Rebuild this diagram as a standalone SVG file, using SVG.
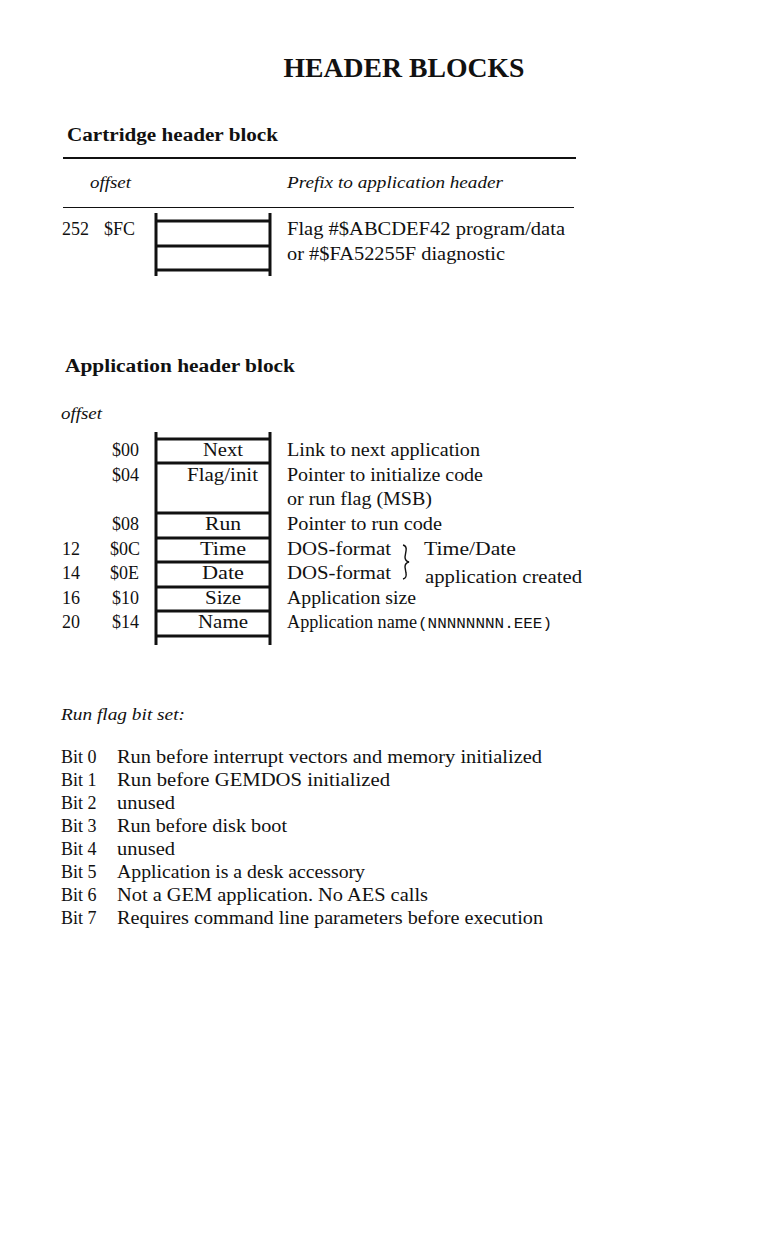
<svg xmlns="http://www.w3.org/2000/svg" width="759" height="1240" viewBox="0 0 759 1240">
<style>
text{font-family:"Liberation Serif","Times New Roman",serif;fill:#111;font-size:18px}
.t{font-size:27px;font-weight:bold}
.h{font-size:18px;font-weight:bold}
.i{font-style:italic;font-size:17px}
.c{text-anchor:middle;font-size:19px}
.m{font-family:"Liberation Mono","DejaVu Sans Mono",monospace;font-size:14px}
.bar{stroke:#111;stroke-width:3;fill:none}
.rule{stroke:#111;fill:none}
</style>
<rect width="759" height="1240" fill="#fff"/>
<text class="t" x="404" y="77" text-anchor="middle" textLength="241" lengthAdjust="spacingAndGlyphs">HEADER BLOCKS</text>

<g id="cartridge">
<text class="h" x="67" y="141" textLength="211" lengthAdjust="spacingAndGlyphs">Cartridge header block</text>
<line class="rule" x1="63" y1="158" x2="576" y2="158" stroke-width="2"/>
<text class="i" x="90" y="188" textLength="41" lengthAdjust="spacingAndGlyphs">offset</text>
<text class="i" x="287" y="188" textLength="216" lengthAdjust="spacingAndGlyphs">Prefix to application header</text>
<line class="rule" x1="63" y1="207.5" x2="574" y2="207.5" stroke-width="1.2"/>
<text x="62" y="235">252</text>
<text x="104" y="235">$FC</text>
<g id="cart-block">
<line class="bar" x1="156" y1="213" x2="156" y2="276"/>
<line class="bar" x1="270" y1="213" x2="270" y2="276"/>
<line class="bar" x1="156" y1="221" x2="270" y2="221"/>
<line class="bar" x1="156" y1="246" x2="270" y2="246"/>
<line class="bar" x1="156" y1="270" x2="270" y2="270"/>
</g>
<text x="287" y="235" textLength="278" lengthAdjust="spacingAndGlyphs">Flag #$ABCDEF42 program/data</text>
<text x="287" y="260" textLength="218" lengthAdjust="spacingAndGlyphs">or #$FA52255F diagnostic</text>
</g>

<g id="application">
<text class="h" x="65" y="372" textLength="230" lengthAdjust="spacingAndGlyphs">Application header block</text>
<text class="i" x="61" y="419" textLength="41" lengthAdjust="spacingAndGlyphs">offset</text>
<g id="app-block">
<line class="bar" x1="156" y1="432" x2="156" y2="645"/>
<line class="bar" x1="270" y1="432" x2="270" y2="645"/>
<line class="bar" x1="156" y1="439" x2="270" y2="439"/>
<line class="bar" x1="156" y1="463" x2="270" y2="463"/>
<line class="bar" x1="156" y1="513" x2="270" y2="513"/>
<line class="bar" x1="156" y1="538" x2="270" y2="538"/>
<line class="bar" x1="156" y1="562" x2="270" y2="562"/>
<line class="bar" x1="156" y1="587" x2="270" y2="587"/>
<line class="bar" x1="156" y1="611" x2="270" y2="611"/>
<line class="bar" x1="156" y1="636" x2="270" y2="636"/>
</g>
<g id="cell-next"><text class="c" x="223" y="456" textLength="40" lengthAdjust="spacingAndGlyphs">Next</text></g>
<g id="cell-flag"><text class="c" x="222.5" y="481" textLength="71" lengthAdjust="spacingAndGlyphs">Flag/init</text></g>
<g id="cell-run"><text class="c" x="223" y="530" textLength="36" lengthAdjust="spacingAndGlyphs">Run</text></g>
<g id="cell-time"><text class="c" x="223" y="555" textLength="46" lengthAdjust="spacingAndGlyphs">Time</text></g>
<g id="cell-date"><text class="c" x="223" y="579" textLength="42" lengthAdjust="spacingAndGlyphs">Date</text></g>
<g id="cell-size"><text class="c" x="223" y="604" textLength="36" lengthAdjust="spacingAndGlyphs">Size</text></g>
<g id="cell-name"><text class="c" x="223" y="628" textLength="50" lengthAdjust="spacingAndGlyphs">Name</text></g>

<text x="112" y="456">$00</text>
<text x="112" y="481">$04</text>
<text x="112" y="530">$08</text>
<text x="62" y="555">12</text><text x="110" y="555">$0C</text>
<text x="62" y="579">14</text><text x="110" y="579">$0E</text>
<text x="62" y="604">16</text><text x="112" y="604">$10</text>
<text x="62" y="628">20</text><text x="112" y="628">$14</text>

<text x="287" y="456" textLength="193" lengthAdjust="spacingAndGlyphs">Link to next application</text>
<text x="287" y="481" textLength="196" lengthAdjust="spacingAndGlyphs">Pointer to initialize code</text>
<text x="287" y="505" textLength="145" lengthAdjust="spacingAndGlyphs">or run flag (MSB)</text>
<text x="287" y="530" textLength="155" lengthAdjust="spacingAndGlyphs">Pointer to run code</text>
<text x="287" y="555" textLength="104" lengthAdjust="spacingAndGlyphs">DOS-format</text>
<text x="287" y="579" textLength="104" lengthAdjust="spacingAndGlyphs">DOS-format</text>
<path d="M403 545 Q407 546 406 551 L405 557 Q405 561 409 562 Q405 563 405 567 L406 573 Q407 578 403 579" fill="none" stroke="#111" stroke-width="1.4"/>
<text x="424" y="555" textLength="92" lengthAdjust="spacingAndGlyphs">Time/Date</text>
<text x="425" y="583" textLength="157" lengthAdjust="spacingAndGlyphs">application created</text>
<text x="287" y="604" textLength="129" lengthAdjust="spacingAndGlyphs">Application size</text>
<text x="287" y="628" textLength="130" lengthAdjust="spacingAndGlyphs">Application name</text>
<text class="m" x="418" y="628" textLength="134" lengthAdjust="spacingAndGlyphs">(NNNNNNNN.EEE)</text>
</g>

<g id="runflag">
<text class="i" x="61" y="720" textLength="124" lengthAdjust="spacingAndGlyphs">Run flag bit set:</text>
<text x="61" y="763">Bit 0</text><text x="117" y="763" textLength="425" lengthAdjust="spacingAndGlyphs">Run before interrupt vectors and memory initialized</text>
<text x="61" y="786">Bit 1</text><text x="117" y="786" textLength="273" lengthAdjust="spacingAndGlyphs">Run before GEMDOS initialized</text>
<text x="61" y="809">Bit 2</text><text x="117" y="809" textLength="58" lengthAdjust="spacingAndGlyphs">unused</text>
<text x="61" y="832">Bit 3</text><text x="117" y="832" textLength="170" lengthAdjust="spacingAndGlyphs">Run before disk boot</text>
<text x="61" y="855">Bit 4</text><text x="117" y="855" textLength="58" lengthAdjust="spacingAndGlyphs">unused</text>
<text x="61" y="878">Bit 5</text><text x="117" y="878" textLength="248" lengthAdjust="spacingAndGlyphs">Application is a desk accessory</text>
<text x="61" y="901">Bit 6</text><text x="117" y="901" textLength="311" lengthAdjust="spacingAndGlyphs">Not a GEM application. No AES calls</text>
<text x="61" y="924">Bit 7</text><text x="117" y="924" textLength="426" lengthAdjust="spacingAndGlyphs">Requires command line parameters before execution</text>
</g>
</svg>
